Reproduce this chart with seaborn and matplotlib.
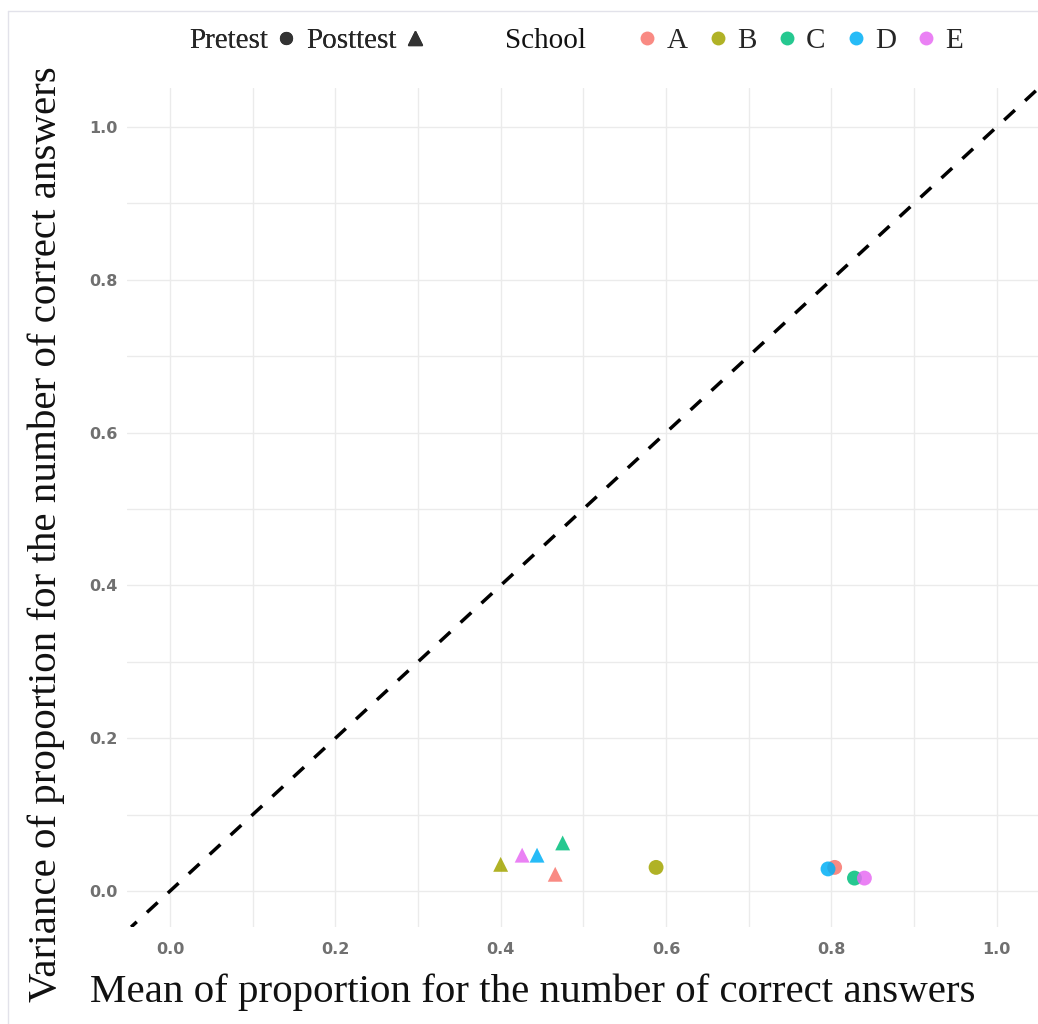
import numpy as np
import pandas as pd
import matplotlib
matplotlib.use("Agg")
import matplotlib.pyplot as plt
from matplotlib.lines import Line2D
import seaborn as sns

# ---- data ----
schools = ["A", "B", "C", "D", "E"]
pre_mean = [0.804, 0.588, 0.828, 0.796, 0.840]
pre_var = [0.031, 0.031, 0.017, 0.029, 0.017]
post_mean = [0.466, 0.400, 0.475, 0.444, 0.426]
post_var = [0.022, 0.035, 0.063, 0.047, 0.047]
tests = ["Pretest", "Posttest"]
tick_vals = [0.0, 0.2, 0.4, 0.6, 0.8, 1.0]
tick_labels = ["0.0", "0.2", "0.4", "0.6", "0.8", "1.0"]
colors = ["#F8766D", "#A3A500", "#00BF7D", "#00B0F6", "#E76BF3"]

df = pd.DataFrame({
    "School": schools * 2,
    "Test": ["Pretest"] * 5 + ["Posttest"] * 5,
    "Mean": pre_mean + post_mean,
    "Variance": pre_var + post_var,
})

sns.set_theme(style="white")
plt.rcParams["font.family"] = ["DejaVu Sans"]

W, H = 1038, 1024
fig = plt.figure(figsize=(W / 100, H / 100), dpi=100)
ax = fig.add_axes([127 / W, 1 - 927 / H, 1 - 127 / W, (927 - 88) / H])

ax.set_xlim(-0.052, 1.05)
ax.set_ylim(-0.047, 1.051)

# grid
ax.set_xticks(tick_vals)
ax.set_yticks(tick_vals)
ax.set_xticks(np.arange(0.1, 1.05, 0.2), minor=True)
ax.set_yticks(np.arange(0.1, 1.05, 0.2), minor=True)
ax.grid(True, which="both", color="#ebebeb", linewidth=1.0)
ax.set_axisbelow(True)
for s in ax.spines.values():
    s.set_visible(False)
ax.tick_params(which="both", length=0)
ax.tick_params(axis="x", pad=11)
ax.tick_params(axis="y", pad=7)
ax.set_xticklabels(tick_labels, fontsize=11.5, fontweight="bold", color="#707070")
ax.set_yticklabels(tick_labels, fontsize=11.5, fontweight="bold", color="#707070")

# identity line
ax.axline((0, 0), (1, 1), color="black", linewidth=2.5, linestyle=(2, (4.2, 4.0)), zorder=2)

sns.scatterplot(data=df, x="Mean", y="Variance", hue="School", style="Test",
                hue_order=schools, palette=colors,
                markers={"Pretest": "o", "Posttest": "^"},
                style_order=tests, s=115, alpha=0.85, linewidth=0,
                legend=False, ax=ax, zorder=3)

# axis labels
serif = ["Liberation Serif", "DejaVu Serif"]
ax.set_xlabel("Mean of proportion for the number of correct answers",
              fontsize=29.5, family=serif, color="#111111")
ax.xaxis.set_label_coords(533 / W, 1 - 1002 / H, transform=fig.transFigure)
ax.xaxis.label.set_va("baseline")
ax.set_ylabel("Variance of proportion for the number of correct answers",
              fontsize=29.5, family=serif, color="#111111")
ax.yaxis.set_label_coords(46 / W, 1 - 534 / H, transform=fig.transFigure)
ax.yaxis.label.set_va("center")
ax.yaxis.label.set_ha("center")

# legends at top
shape_handles = [
    Line2D([], [], marker="o", linestyle="", color="#333333", markersize=8.5),
    Line2D([], [], marker="^", linestyle="", color="#333333", markersize=10.5),
]
leg1 = fig.legend(shape_handles, tests, loc="center left",
                  bbox_to_anchor=(189 / W, 1 - 41 / H), ncol=2, frameon=False,
                  markerfirst=False, handlelength=0.5, handletextpad=0.38,
                  columnspacing=0.45, borderpad=0, borderaxespad=0,
                  prop={"family": serif, "size": 21})
fig.add_artist(leg1)

fig.text(505 / W, 1 - 41 / H, "School", family=serif, fontsize=21,
         va="center", ha="left", color="#111111")

school_handles = [Line2D([], [], marker="o", linestyle="", color=c, alpha=0.85,
                         markersize=10, markeredgewidth=0) for c in colors]
leg2 = fig.legend(school_handles, schools, loc="center left",
                  bbox_to_anchor=(640 / W, 1 - 41 / H), ncol=5, frameon=False,
                  handlelength=0.5, handletextpad=0.4, columnspacing=0.80,
                  borderpad=0, borderaxespad=0,
                  prop={"family": serif, "size": 21})

# faint image border
fig.add_artist(Line2D([8 / W, 8 / W], [0, 1 - 11 / H], transform=fig.transFigure,
                      color="#e2e2ea", linewidth=1))
fig.add_artist(Line2D([8 / W, 1], [1 - 11 / H, 1 - 11 / H], transform=fig.transFigure,
                      color="#e2e2ea", linewidth=1))

fig.savefig("out.png", dpi=100, facecolor="white")
